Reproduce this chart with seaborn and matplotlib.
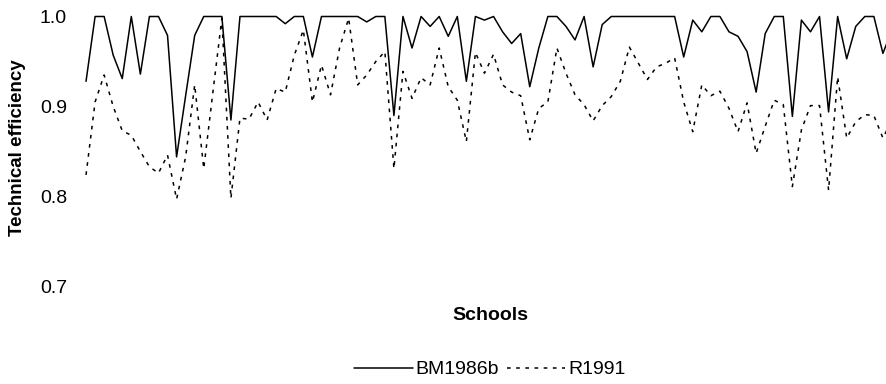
import numpy as np
import pandas as pd
import seaborn as sns
import matplotlib
matplotlib.use("Agg")
import matplotlib.pyplot as plt

# ---- data ----
schools = list(range(1, 91))
bm1986b = [0.928, 1.0, 1.0, 0.957, 0.931, 1.0, 0.936, 1.0, 1.0, 0.979,
           0.844, 0.912, 0.979, 1.0, 1.0, 1.0, 0.885, 1.0, 1.0, 1.0,
           1.0, 1.0, 0.992, 1.0, 1.0, 0.955, 1.0, 1.0, 1.0, 1.0,
           1.0, 0.994, 1.0, 1.0, 0.890, 1.0, 0.965, 1.0, 0.989, 1.0,
           0.978, 1.0, 0.928, 1.0, 0.996, 1.0, 0.983, 0.970, 0.981, 0.922,
           0.965, 1.0, 1.0, 0.989, 0.974, 1.0, 0.944, 0.991, 1.0, 1.0,
           1.0, 1.0, 1.0, 1.0, 1.0, 1.0, 0.955, 0.996, 0.983, 1.0,
           1.0, 0.983, 0.978, 0.961, 0.916, 0.981, 1.0, 1.0, 0.889, 0.996,
           0.983, 1.0, 0.894, 1.0, 0.953, 0.989, 1.0, 1.0, 0.959, 0.985]
r1991 = [0.824, 0.905, 0.935, 0.900, 0.873, 0.868, 0.850, 0.833, 0.826, 0.846,
         0.797, 0.844, 0.924, 0.831, 0.915, 0.998, 0.798, 0.887, 0.886, 0.905,
         0.885, 0.920, 0.916, 0.957, 0.985, 0.905, 0.946, 0.913, 0.965, 0.998,
         0.924, 0.935, 0.950, 0.961, 0.831, 0.939, 0.909, 0.932, 0.924, 0.965,
         0.922, 0.907, 0.861, 0.960, 0.937, 0.958, 0.924, 0.916, 0.912, 0.863,
         0.898, 0.905, 0.965, 0.937, 0.913, 0.902, 0.884, 0.901, 0.911, 0.928,
         0.966, 0.948, 0.930, 0.944, 0.948, 0.954, 0.905, 0.872, 0.924, 0.912,
         0.917, 0.898, 0.872, 0.904, 0.848, 0.878, 0.907, 0.902, 0.811, 0.874,
         0.901, 0.901, 0.807, 0.933, 0.865, 0.883, 0.891, 0.890, 0.865, 0.885]
yticks = [0.7, 0.8, 0.9, 1.0]
ytick_labels = ["0.7", "0.8", "0.9", "1.0"]

df = pd.DataFrame({"school": schools, "BM1986b": bm1986b, "R1991": r1991})

sns.set_style("white")
plt.rcParams["font.family"] = ["Liberation Sans", "DejaVu Sans"]
plt.rcParams["text.color"] = "black"
plt.rcParams["axes.labelcolor"] = "black"
plt.rcParams["ytick.color"] = "black"
plt.rcParams["xtick.color"] = "black"

W, H = 887, 384
fig = plt.figure(figsize=(W / 100, H / 100), dpi=100)
ax = fig.add_axes([81.5 / W, 97.5 / H, 815 / W, 270 / H])

sns.lineplot(data=df, x="school", y="BM1986b", ax=ax, color="black",
             linewidth=1.1, label="BM1986b", clip_on=False)
sns.lineplot(data=df, x="school", y="R1991", ax=ax, color="black",
             linewidth=1.1, linestyle=(0, (2.4, 3.6)), label="R1991", clip_on=False)

ax.set_xlim(0.5, 90.5)
ax.set_ylim(0.7, 1.0)
ax.set_xticks([])
ax.set_yticks(yticks)
ax.set_yticklabels(ytick_labels, fontsize=14, color="black")
ax.tick_params(axis="y", length=0, pad=10.5)
for s in ax.spines.values():
    s.set_visible(False)
ax.grid(False)

ax.set_xlabel("Schools", fontsize=14, fontweight="bold", va="center", color="black")
ax.xaxis.set_label_coords((490 - 81.5) / 815, -(315 - 286.5) / 270)
ax.set_ylabel("Technical efficiency", fontsize=13.5, fontweight="bold", va="center",
              color="black")
ax.yaxis.set_label_coords((17.5 - 81.5) / 815, (286.5 - 147.5) / 270)

handles, labels = ax.get_legend_handles_labels()
ax.get_legend().remove()
leg = fig.legend(handles, labels, loc="center", bbox_to_anchor=(490 / W, 1 - 369.5 / H),
                 ncol=2, frameon=False, fontsize=14, handlelength=3.0,
                 handletextpad=0.15, columnspacing=0.4)
for t in leg.get_texts():
    t.set_color("black")

fig.savefig("out.png", dpi=100)
